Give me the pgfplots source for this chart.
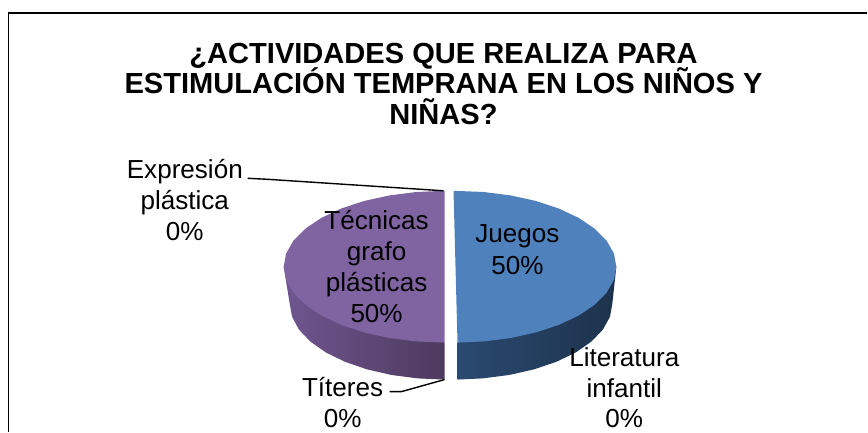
\documentclass[border=0pt]{standalone}
\usepackage{fontspec}
\setmainfont{Liberation Sans}
\usepackage{pgfplots}
\pgfplotsset{compat=1.18}
\definecolor{bluetop}{HTML}{4F81BD}
\definecolor{purptop}{HTML}{8064A2}
\definecolor{bluesideL}{HTML}{2A4A70}
\definecolor{bluesideR}{HTML}{1D324C}
\definecolor{purpsideL}{HTML}{6F5690}
\definecolor{purpsideR}{HTML}{4E3A5E}
\newcommand{\lab}{\fontsize{26.1}{31}\selectfont}
\newcommand{\ttl}{\fontsize{29.1}{31}\selectfont\bfseries}
\begin{document}
\begin{tikzpicture}[every node/.style={inner sep=0pt, outer sep=0pt}]
\begin{axis}[
  scale only axis, width=868pt, height=432pt,
  xmin=0, xmax=868, ymin=0, ymax=432, y dir=reverse,
  ticks=none, axis line style={draw=none}, clip=false, no markers,
]
% frame
\addplot[black, line width=1.9pt, forget plot] coordinates {(8.5,432) (8.5,13) (868,13)};
% purple side
\addplot[draw=none, left color=purpsideL, right color=purpsideR, forget plot] coordinates {
(284,267) (290,304) (292.4,317.2) (299.3,330) (310.8,342) (326.3,352.9) (345.4,362.2) (367.5,369.8) (392,375.4) (418.1,378.8) (445,380) (445,343)};
% purple top
\addplot[draw=none, fill=purptop, forget plot] coordinates {
(445,191) (417,192.2) (389.9,195.6) (364.5,201.2) (341.5,208.8) (321.7,218.1) (305.6,229) (293.7,241) (286.4,253.8) (284,267) (286.4,280.2) (293.7,293) (305.6,305) (321.7,315.9) (341.5,325.2) (364.5,332.8) (389.9,338.4) (417,341.8) (445,343)};
% blue side
\addplot[draw=none, left color=bluesideL, right color=bluesideR, forget plot] coordinates {
(458,343) (458,380) (483.3,378.8) (509.7,375.4) (534.5,369.8) (556.9,362.2) (576.3,352.9) (592,342) (603.5,330) (610.6,317.2) (613,304) (617,267)};
% blue top
\addplot[draw=none, fill=bluetop, forget plot] coordinates {
(454,191) (484,192.2) (511.1,195.6) (536.5,201.2) (559.5,208.8) (579.3,218.1) (595.4,229) (607.3,241) (614.6,253.8) (617,267) (614.6,280.2) (607.3,293) (595.4,305) (579.3,315.9) (559.5,325.2) (536.5,332.8) (511.1,338.4) (484,341.8) (458,343)};
% leaders
\addplot[black, line width=1.4pt, forget plot] coordinates {(248,178.5) (268,179.5) (444,191)};
\addplot[black, line width=1.4pt, forget plot] coordinates {(390,392) (402,392) (445,380)};
% title
\node[anchor=base] at (axis cs:444,64) {\ttl ¿ACTIVIDADES QUE REALIZA PARA};
\node[anchor=base] at (axis cs:444,94) {\ttl ESTIMULACIÓN TEMPRANA EN LOS NIÑOS Y};
\node[anchor=base] at (axis cs:444,125) {\ttl NIÑAS?};
% labels
\node[anchor=base] at (axis cs:185,179) {\lab Expresión};
\node[anchor=base] at (axis cs:185,210) {\lab plástica};
\node[anchor=base] at (axis cs:185,241) {\lab 0\%};
\node[anchor=base] at (axis cs:518,243) {\lab Juegos};
\node[anchor=base] at (axis cs:518,275) {\lab 50\%};
\node[anchor=base] at (axis cs:377,230) {\lab Técnicas};
\node[anchor=base] at (axis cs:377,261) {\lab grafo};
\node[anchor=base] at (axis cs:377,292) {\lab plásticas};
\node[anchor=base] at (axis cs:377,323) {\lab 50\%};
\node[anchor=base] at (axis cs:343,397) {\lab Títeres};
\node[anchor=base] at (axis cs:343,428) {\lab 0\%};
\node[anchor=base] at (axis cs:625,367) {\lab Literatura};
\node[anchor=base] at (axis cs:625,397.5) {\lab infantil};
\node[anchor=base] at (axis cs:625,428) {\lab 0\%};
\end{axis}
\end{tikzpicture}
\end{document}
